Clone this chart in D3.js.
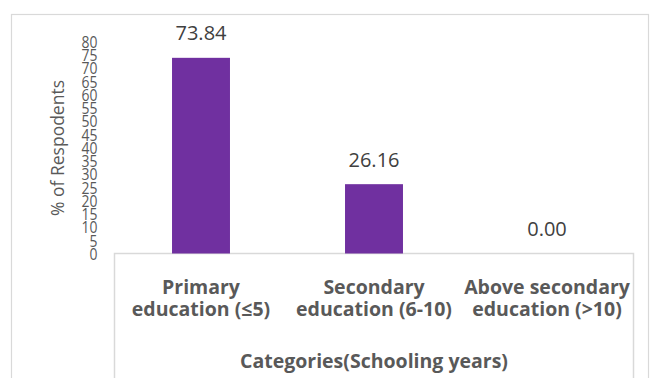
<!DOCTYPE html>
<html>
<head>
<meta charset="utf-8">
<script src="https://cdn.jsdelivr.net/npm/d3@7"></script>
<style>
  html, body { margin: 0; padding: 0; background: #fff; }
  svg { display: block; font-family: "Open Sans", "Liberation Sans", sans-serif; }
</style>
</head>
<body>
<svg id="chart" width="650" height="378"></svg>
<script>
// Share of respondents by schooling category
const categories = ["Primary education (≤5)", "Secondary education (6-10)", "Above secondary education (>10)"];
const categoryLines = [["Primary", "education (≤5)"], ["Secondary", "education (6-10)"], ["Above secondary", "education (>10)"]];
const values = [73.84, 26.16, 0.00];
const yTickValues = [0, 5, 10, 15, 20, 25, 30, 35, 40, 45, 50, 55, 60, 65, 70, 75, 80];
const yTitle = "% of Respodents";
const xTitle = "Categories(Schooling years)";

const svg = d3.select("#chart");
const W = 650, H = 378;
const plot = { left: 114.5, right: 633.5, top: 41.5, bottom: 253.5 };

const x = d3.scaleBand()
  .domain(categories)
  .range([plot.left, plot.right])
  .paddingInner(0.665)
  .paddingOuter(0.3325);

const y = d3.scaleLinear()
  .domain([0, 80])
  .range([plot.bottom, plot.top]);

// chart frame
svg.append("rect")
  .attr("x", 11.5).attr("y", 14.5)
  .attr("width", 637).attr("height", H)
  .attr("fill", "none")
  .attr("stroke", "#d9d9d9")
  .attr("stroke-width", 1.2);

// category table outline
svg.append("path")
  .attr("d", `M${plot.left},${H + 2}V${plot.bottom}H${plot.right}V${H + 2}`)
  .attr("fill", "none")
  .attr("stroke", "#d9d9d9")
  .attr("stroke-width", 1.5);

// bars
svg.append("g")
  .selectAll("rect")
  .data(values)
  .join("rect")
  .attr("x", (d, i) => x(categories[i]))
  .attr("y", d => y(d))
  .attr("width", x.bandwidth())
  .attr("height", d => y(0) - y(d))
  .attr("fill", "#7030a0");

// value labels
svg.append("g")
  .selectAll("text")
  .data(values)
  .join("text")
  .attr("x", (d, i) => x(categories[i]) + x.bandwidth() / 2)
  .attr("y", d => y(d) - 17.5)
  .attr("text-anchor", "middle")
  .attr("font-size", 20)
  .attr("fill", "#404040")
  .text(d => d.toFixed(2));

// value axis (labels only)
const yAxis = svg.append("g")
  .attr("transform", `translate(${plot.left},0)`)
  .call(d3.axisLeft(y).tickValues(yTickValues).tickSize(0).tickPadding(0));
yAxis.select(".domain").remove();
yAxis.selectAll("text")
  .attr("x", 0)
  .attr("dy", "0.35em")
  .attr("transform", "translate(-17,0) scale(0.82,1)")
  .attr("font-family", "\"Open Sans\", sans-serif")
  .attr("font-size", 17)
  .attr("fill", "#595959");

svg.append("text")
  .attr("transform", `translate(57,148) rotate(-90)`)
  .attr("text-anchor", "middle")
  .attr("dominant-baseline", "central")
  .attr("font-size", 17.5)
  .attr("fill", "#595959")
  .text(yTitle);

// category labels
const catG = svg.append("g");
categoryLines.forEach((lines, i) => {
  const cx = x(categories[i]) + x.bandwidth() / 2;
  lines.forEach((line, j) => {
    catG.append("text")
      .attr("x", cx)
      .attr("y", 294 + j * 22)
      .attr("text-anchor", "middle")
      .attr("font-size", 19.5)
      .attr("font-weight", "bold")
      .attr("fill", "#595959")
      .text(line);
  });
});

svg.append("text")
  .attr("x", (plot.left + plot.right) / 2)
  .attr("y", 368)
  .attr("text-anchor", "middle")
  .attr("font-size", 19.5)
  .attr("font-weight", "bold")
  .attr("fill", "#595959")
  .text(xTitle);
</script>
</body>
</html>
